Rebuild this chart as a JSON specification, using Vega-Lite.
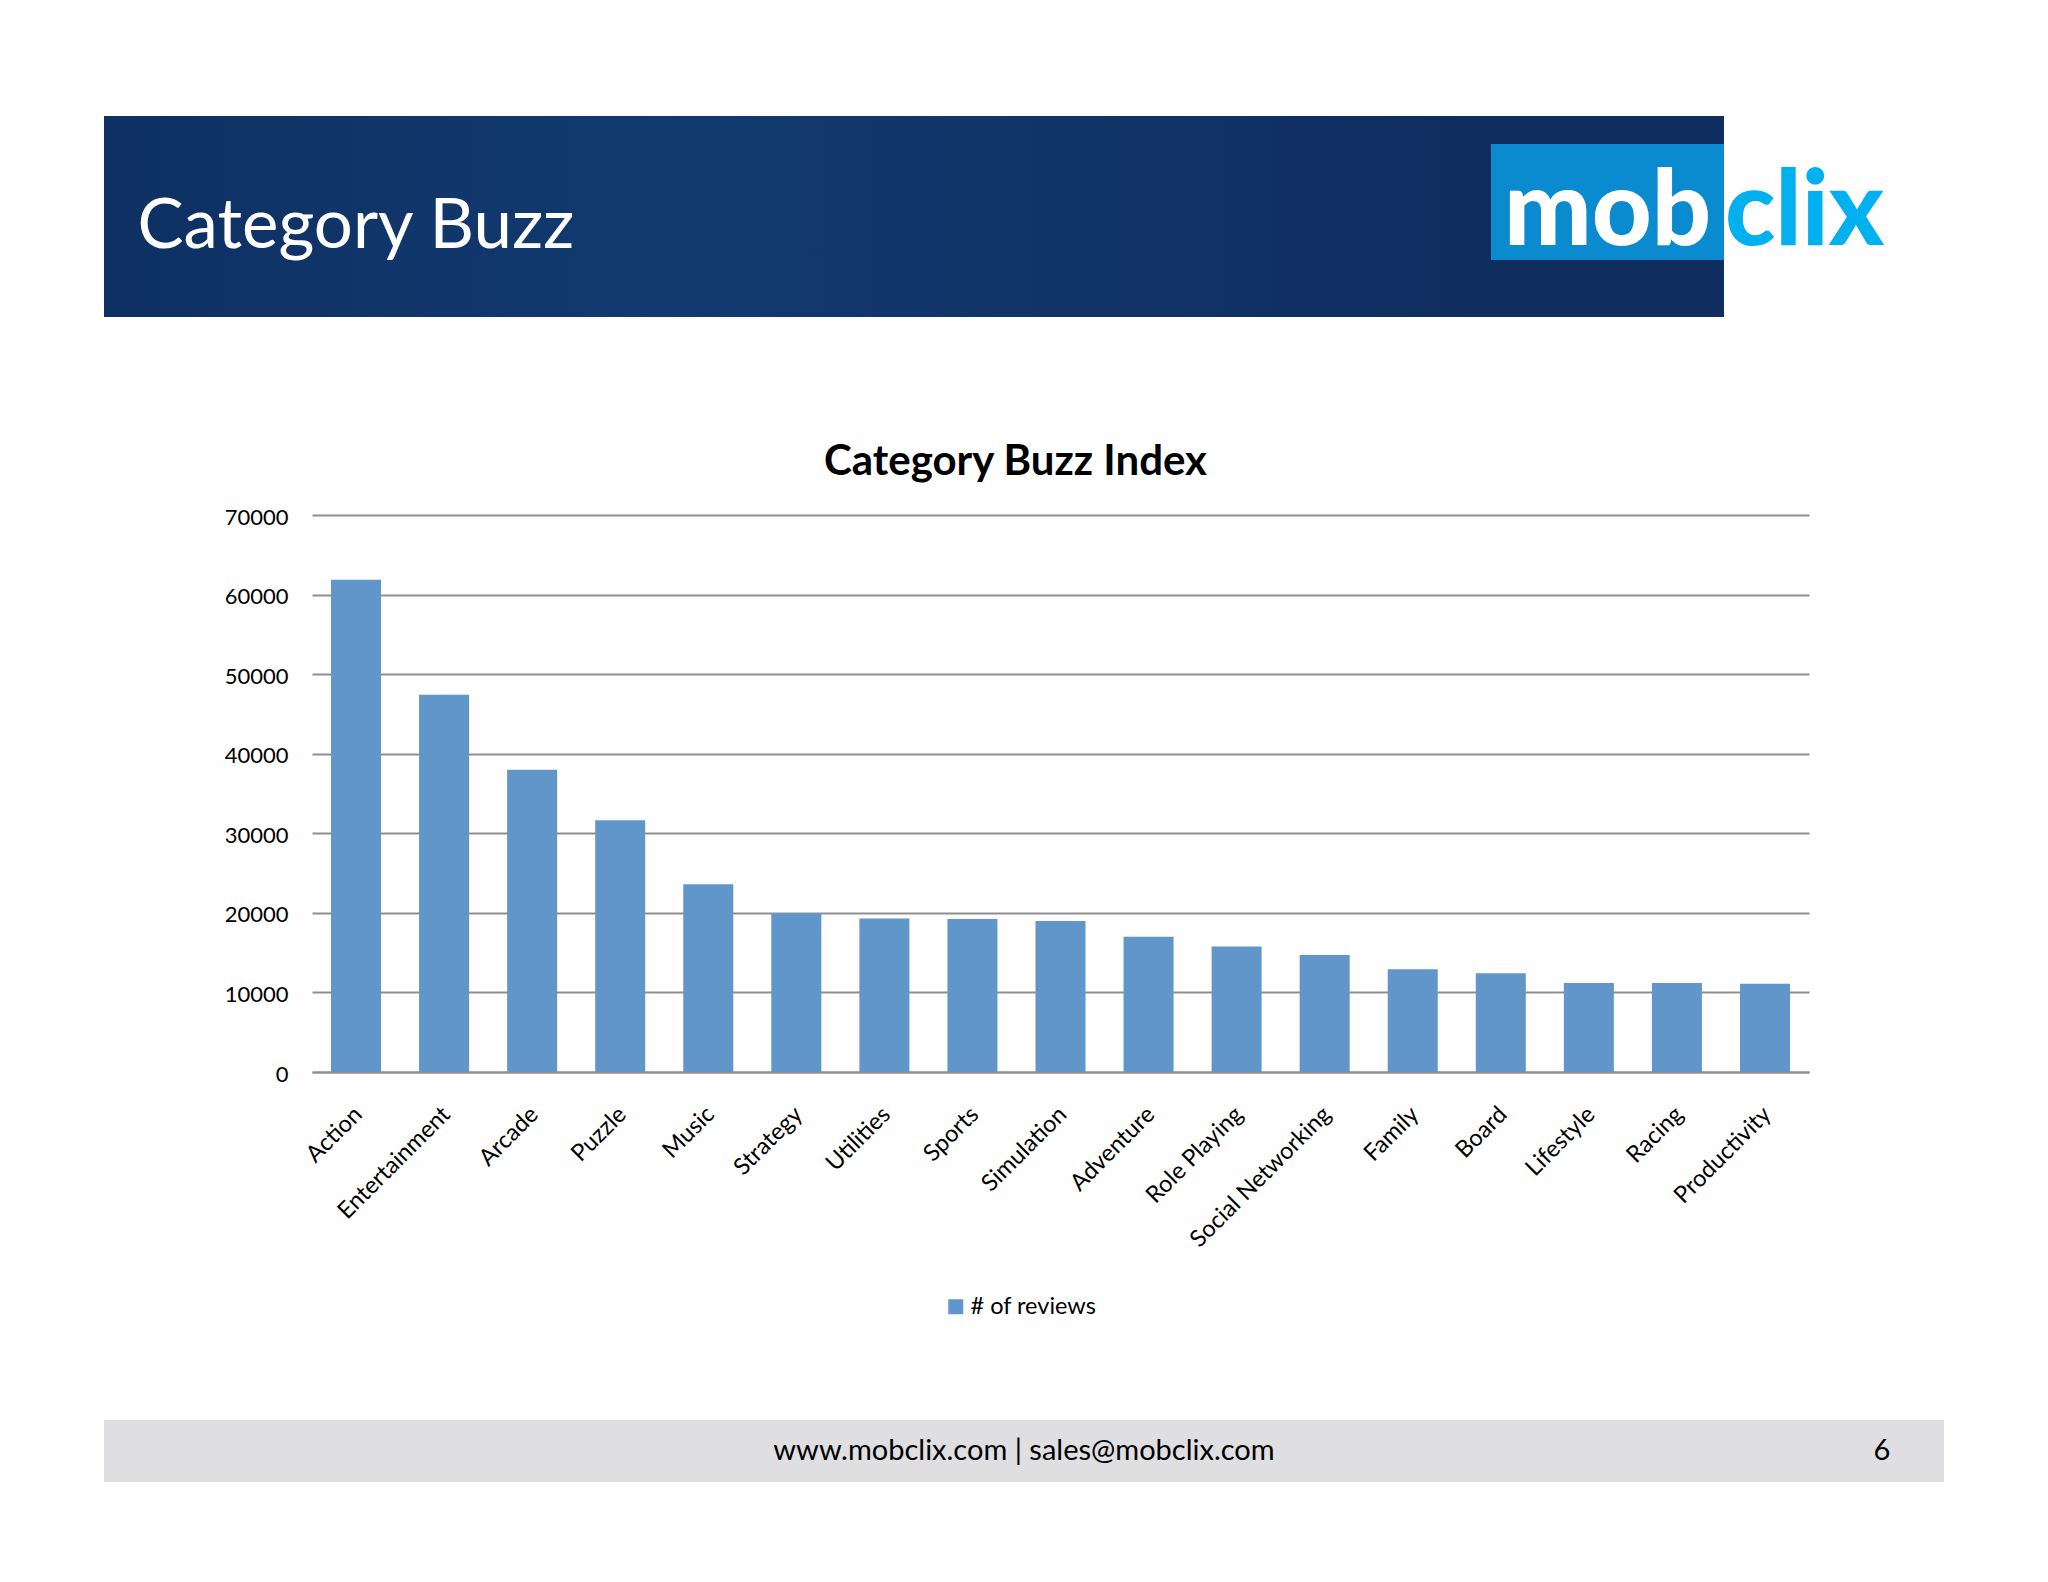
{
  "$schema": "https://vega.github.io/schema/vega-lite/v6.json",
  "description": "Slide with a bar chart of the number of reviews per app category.",
  "background": "#fefefe",
  "padding": {"left": 104, "top": 116, "right": 104, "bottom": 100},
  "spacing": 0,
  "vconcat": [
    {
      "spacing": 0,
      "hconcat": [
        {
          "width": 1387,
          "height": 201,
          "view": {"stroke": null, "fill": {"gradient": "linear", "x1": 0, "y1": 0, "x2": 1, "y2": 0, "stops": [{"offset": 0, "color": "#0e3063"}, {"offset": 0.4, "color": "#123a70"}, {"offset": 1, "color": "#0f2d5f"}]}},
          "data": {"values": [{"label": "Category Buzz"}]},
          "mark": {"type": "text", "align": "left", "baseline": "alphabetic", "dx": -660, "dy": 31, "font": "Lato", "fontSize": 69, "color": "white"},
          "encoding": {"text": {"field": "label"}}
        },
        {
          "spacing": 0,
          "bounds": "flush",
          "vconcat": [
            {"width": 233, "height": 28, "view": {"stroke": null, "fill": "#0f2d5f"}, "data": {"values": []}, "mark": "text"},
            {
              "width": 233,
              "height": 116,
              "view": {"stroke": null, "fill": "#0a8bd0"},
              "data": {"values": [{"label": "mob"}]},
              "mark": {"type": "text", "baseline": "alphabetic", "dy": 43, "font": "Lato", "fontWeight": 900, "fontSize": 104, "color": "white"},
              "encoding": {"text": {"field": "label"}}
            },
            {"width": 233, "height": 57, "view": {"stroke": null, "fill": "#0f2d5f"}, "data": {"values": []}, "mark": "text"}
          ]
        },
        {
          "width": 161,
          "height": 201,
          "view": {"stroke": null},
          "data": {"values": [{"label": "clix"}]},
          "mark": {"type": "text", "baseline": "alphabetic", "dy": 28, "font": "Lato", "fontWeight": 900, "fontSize": 104, "color": "#00b0ef"},
          "encoding": {"text": {"field": "label"}}
        }
      ]
    },
    {"width": 1, "height": 124, "view": {"stroke": null}, "data": {"values": []}, "mark": "text"},
    {
      "spacing": 0,
      "bounds": "flush",
      "hconcat": [
        {"width": 208, "height": 557, "view": {"stroke": null}, "data": {"values": []}, "mark": "text"},
        {
          "width": 1497,
          "height": 557,
          "view": {"stroke": null},
          "title": {"text": "Category Buzz Index", "font": "Lato", "fontSize": 42, "fontWeight": "bold", "color": "black", "anchor": "middle", "dx": -45, "offset": 22},
          "data": {
            "values": [
              {"category": "Action", "reviews": 61850, "series": "# of reviews"},
              {"category": "Entertainment", "reviews": 47400, "series": "# of reviews"},
              {"category": "Arcade", "reviews": 37980, "series": "# of reviews"},
              {"category": "Puzzle", "reviews": 31630, "series": "# of reviews"},
              {"category": "Music", "reviews": 23580, "series": "# of reviews"},
              {"category": "Strategy", "reviews": 19960, "series": "# of reviews"},
              {"category": "Utilities", "reviews": 19300, "series": "# of reviews"},
              {"category": "Sports", "reviews": 19220, "series": "# of reviews"},
              {"category": "Simulation", "reviews": 18980, "series": "# of reviews"},
              {"category": "Adventure", "reviews": 17000, "series": "# of reviews"},
              {"category": "Role Playing", "reviews": 15770, "series": "# of reviews"},
              {"category": "Social Networking", "reviews": 14700, "series": "# of reviews"},
              {"category": "Family", "reviews": 12900, "series": "# of reviews"},
              {"category": "Board", "reviews": 12400, "series": "# of reviews"},
              {"category": "Lifestyle", "reviews": 11170, "series": "# of reviews"},
              {"category": "Racing", "reviews": 11170, "series": "# of reviews"},
              {"category": "Productivity", "reviews": 11090, "series": "# of reviews"}
            ]
          },
          "mark": {"type": "bar"},
          "encoding": {
            "x": {
              "field": "category",
              "type": "nominal",
              "sort": null,
              "title": null,
              "scale": {"paddingInner": 0.432, "paddingOuter": 0.216},
              "axis": {"labelAngle": -45, "labelAlign": "right", "labelBaseline": "top", "labelPadding": 30, "labelOffset": -6, "labelFont": "Lato", "labelFontSize": 23.5, "labelColor": "black", "ticks": false, "domainColor": "#8f8f8f", "domainWidth": 2, "grid": false, "labelOverlap": false, "labelLimit": 400}
            },
            "y": {
              "field": "reviews",
              "type": "quantitative",
              "title": null,
              "scale": {"domain": [0, 70000], "nice": false},
              "axis": {"values": [0, 10000, 20000, 30000, 40000, 50000, 60000, 70000], "format": "d", "labelFont": "Lato", "labelFontSize": 22, "labelColor": "black", "labelPadding": 24, "labelOffset": 2, "ticks": false, "domain": false, "gridColor": "#8f8f8f", "gridWidth": 2}
            },
            "color": {
              "field": "series",
              "type": "nominal",
              "scale": {"range": ["#6196cb"]},
              "legend": {"title": null, "orient": "none", "legendX": 840, "legendY": 1179, "symbolType": "square", "symbolSize": 225, "symbolStrokeWidth": 0, "labelFont": "Lato", "labelFontSize": 23.5, "labelColor": "black", "labelOffset": 3}
            }
          }
        }
      ]
    },
    {"width": 1, "height": 168, "view": {"stroke": null}, "data": {"values": []}, "mark": "text"},
    {
      "width": 1840,
      "height": 62,
      "view": {"stroke": null, "fill": "#dfdee1"},
      "layer": [
        {
          "data": {"values": [{"label": "www.mobclix.com | sales@mobclix.com"}]},
          "mark": {"type": "text", "font": "Lato", "fontSize": 29, "color": "black"},
          "encoding": {"text": {"field": "label"}}
        },
        {
          "data": {"values": [{"label": "6"}]},
          "mark": {"type": "text", "font": "Lato", "fontSize": 29, "color": "black", "dx": 858},
          "encoding": {"text": {"field": "label"}}
        }
      ]
    }
  ]
}
